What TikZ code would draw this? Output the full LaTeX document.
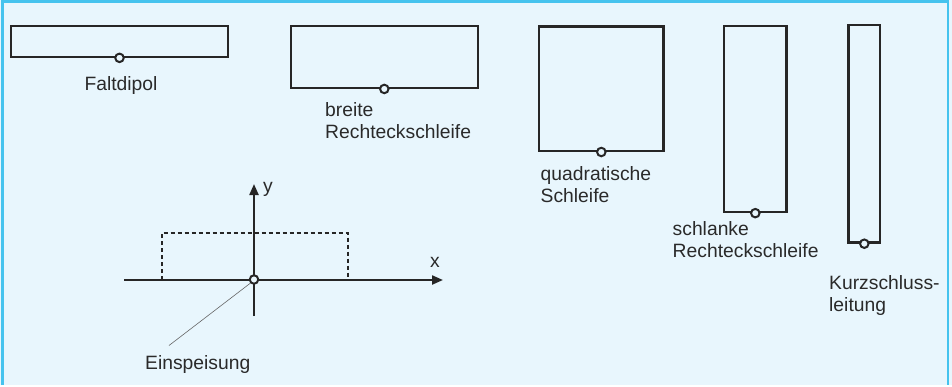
\documentclass[tikz,border=0pt]{standalone}
\usepackage{fontspec}
\setmainfont{Liberation Sans}
\usetikzlibrary{arrows.meta}
\definecolor{panelbg}{HTML}{E8F6FD}
\definecolor{panelframe}{HTML}{45C3EE}
\definecolor{wire}{HTML}{262626}
\definecolor{ink}{HTML}{2A2A2A}
\tikzset{
  loopbox/.style={draw=wire, line width=2.3pt, inner sep=0pt, fill=none},
  feed/.style={circle, draw=wire, line width=2pt, fill=panelbg, inner sep=0pt, minimum size=8.5pt},
  caption/.style={text=ink, font=\fontsize{19.3}{22}\selectfont, align=left, inner sep=0pt},
  axis/.style={draw=wire, line width=2.2pt, -{Triangle[length=11pt,width=9pt]}},
  leader/.style={draw=gray!80!black, line width=0.6pt},
}
\begin{document}
\begin{tikzpicture}[x=1pt,y=-1pt]
  % panel
  \fill[panelbg] (0,0) rectangle (952,385);
  \draw[panelframe, line width=2.5pt] (2.5,385) -- (2.5,1.5) -- (948,1.5) -- (948,385);
  \useasboundingbox (0,0) rectangle (952,385);

  % loop shapes, centred on their outlines
  \node[loopbox, minimum width=217pt, minimum height=31pt] (fd) at (119.5,41.2) {};
  \node[loopbox, minimum width=187pt, minimum height=62pt] (br) at (384.3,56.8) {};
  \node[loopbox, minimum width=124.5pt, minimum height=124.5pt] (qu) at (601.3,88.6) {};
  \node[loopbox, minimum width=62.5pt, minimum height=186pt] (sl) at (755.3,119) {};
  \node[loopbox, minimum width=31.5pt, minimum height=217.5pt] (ks) at (864.3,133.8) {};

  % feed points
  \node[feed] (fdf) at (fd.south) {};
  \node[feed] (brf) at (br.south) {};
  \node[feed] (quf) at (qu.south) {};
  \node[feed] (slf) at (sl.south) {};
  \node[feed] (ksf) at (ks.south) {};

  % captions (base anchor of a two-line caption sits on its last line)
  \node[caption, anchor=base] (fdl) at (121,90) {Faltdipol};
  \node[caption, anchor=base west] (brl) at (325,138.5) {breite\\Rechteckschleife};
  \node[caption, anchor=base west] (qul) at (540.5,202) {quadratische\\Schleife};
  \node[caption, anchor=base west] (sll) at (672.5,257) {schlanke\\Rechteckschleife};
  \node[caption, anchor=base west] (ksl) at (829,311) {Kurzschluss-\\leitung};

  % coordinate system
  \coordinate (xs) at (124,280);
  \coordinate (xe) at (443,280);
  \coordinate (ys) at (254,316);
  \coordinate (ye) at (254,184);
  \draw[dashed, draw=wire, line width=1.8pt, dash pattern=on 4pt off 3pt]
    (161.7,280) rectangle (348,233);
  \draw[axis] (xs) -- (xe);
  \draw[axis] (ys) -- (ye);
  \node[feed] (org) at (254,279.5) {};
  \node[caption, anchor=base west] (yl) at (263,192) {y};
  \node[caption, anchor=base west] (xl) at (430,267.5) {x};
  \node[caption, anchor=base west] (ein) at (145,369) {Einspeisung};
  \coordinate (lead) at (169,345.5);
  \draw[leader] (org.south west) -- (lead);
\end{tikzpicture}
\end{document}
